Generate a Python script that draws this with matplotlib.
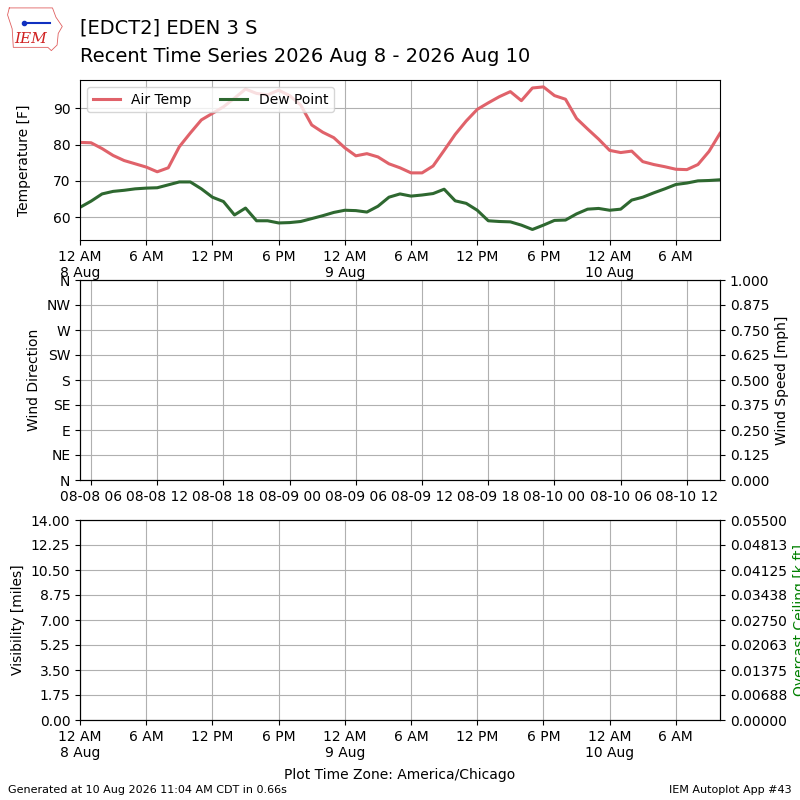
"""
IEM autoplot #43 style recent time series for EDCT2 (Eden 3 S).
"""
from datetime import timedelta, timezone

import matplotlib
matplotlib.use('Agg')
import matplotlib.pyplot as plt
import matplotlib.dates as mdates
from matplotlib.ticker import FuncFormatter
import pandas as pd

# hourly observations, starting 2026-08-08 00:00 CDT
start_time = '2026-08-08 00:00'
air_temp = [80.6, 80.5, 78.9, 77.0, 75.6, 74.7, 73.8, 72.5, 73.6, 79.4,
            83.2, 86.8, 88.6, 90.4, 92.8, 95.3, 94.1, 93.7, 95.0, 93.5,
            90.9, 85.4, 83.4, 81.9, 79.1, 76.9, 77.5, 76.6, 74.7, 73.6,
            72.2, 72.2, 74.1, 78.4, 82.8, 86.5, 89.7, 91.5, 93.2, 94.6,
            92.1, 95.6, 95.9, 93.5, 92.5, 87.2, 84.3, 81.5, 78.4, 77.8,
            78.2, 75.3, 74.5, 73.9, 73.2, 73.1, 74.5, 78.1, 83.1]
dew_point = [62.7, 64.4, 66.4, 67.1, 67.4, 67.8, 68.0, 68.1, 68.9, 69.7,
             69.7, 67.8, 65.5, 64.3, 60.6, 62.5, 59.0, 59.0, 58.4, 58.5,
             58.8, 59.6, 60.4, 61.3, 61.9, 61.8, 61.4, 63.0, 65.5, 66.4,
             65.8, 66.1, 66.5, 67.7, 64.5, 63.8, 61.9, 59.0, 58.8, 58.7,
             57.8, 56.6, 57.8, 59.1, 59.2, 60.9, 62.2, 62.4, 61.9, 62.2,
             64.7, 65.5, 66.7, 67.8, 69.0, 69.4, 70.0, 70.1, 70.3]

wind_dir_labels = ['N', 'NE', 'E', 'SE', 'S', 'SW', 'W', 'NW', 'N']
ceiling_labels = ['0.00000', '0.00688', '0.01375', '0.02063', '0.02750',
                  '0.03438', '0.04125', '0.04813', '0.05500']

CDT = timezone(timedelta(hours=-5), 'CDT')
UTC = timezone.utc

times = pd.date_range(start_time, periods=len(air_temp), freq='h', tz=CDT)
xnum = mdates.date2num(times.to_pydatetime())


def local_fmt(x, pos=None):
    dt = mdates.num2date(x, tz=CDT)
    s = dt.strftime('%I %p').lstrip('0')
    if dt.hour == 0:
        s += '\n%d %s' % (dt.day, dt.strftime('%b'))
    return s


def local_axis(ax):
    ax.xaxis.set_major_locator(mdates.HourLocator(byhour=[0, 6, 12, 18], tz=CDT))
    ax.xaxis.set_major_formatter(FuncFormatter(local_fmt))


fig = plt.figure(figsize=(8, 8), dpi=100)

# title + logo
fig.text(0.1, 0.965, '[EDCT2] EDEN 3 S', fontsize=14, va='center')
fig.text(0.1, 0.929, 'Recent Time Series 2026 Aug 8 - 2026 Aug 10',
         fontsize=14, va='center')
lax = fig.add_axes([0.008, 0.935, 0.072, 0.058])
lax.axis('off')
lax.set_xlim(0, 1)
lax.set_ylim(0, 1)
lax.plot([0.05, 0.8, 0.86, 0.97, 0.9, 0.88, 0.78, 0.72, 0.12, 0.1, 0.02, 0.05],
         [0.95, 0.95, 0.75, 0.55, 0.4, 0.15, 0.03, 0.1, 0.1, 0.5, 0.8, 0.95],
         color='#e06060', lw=0.6)
lax.plot([0.3, 0.75], [0.62, 0.62], color='#1030c0', lw=1.5)
lax.plot([0.3], [0.62], 'o', color='#1030c0', ms=3)
lax.text(0.42, 0.28, 'IEM', color='#d02020', fontsize=11, family='serif',
         style='italic', ha='center', va='center')

# temperature panel
ax1 = fig.add_axes([0.1, 0.7, 0.8, 0.2])
ax1.plot(xnum, air_temp, color='#e0626a', lw=2.2, label='Air Temp')
ax1.plot(xnum, dew_point, color='#2e6830', lw=2.2, label='Dew Point')
ax1.set_xlim(xnum[0], xnum[-1])
ax1.set_ylim(53.7, 97.8)
ax1.set_yticks([60, 70, 80, 90])
ax1.set_ylabel('Temperature [F]', labelpad=15.5)
ax1.grid(True)
local_axis(ax1)
ax1.legend(loc='upper left', ncol=2)

# wind panel (no data, UTC ticks)
ax2 = fig.add_axes([0.1, 0.4, 0.8, 0.25])
ax2.set_xlim(xnum[0], xnum[-1])
ax2.set_ylim(0, 360)
ax2.set_yticks(range(0, 361, 45))
ax2.set_yticklabels(wind_dir_labels)
ax2.set_ylabel('Wind Direction')
ax2.xaxis.set_major_locator(mdates.HourLocator(byhour=[0, 6, 12, 18], tz=UTC))
ax2.xaxis.set_major_formatter(mdates.DateFormatter('%m-%d %H', tz=UTC))
ax2.grid(True)
ax2b = ax2.twinx()
ax2b.set_ylim(0, 1)
ax2b.set_yticks([i / 8 for i in range(9)])
ax2b.yaxis.set_major_formatter(FuncFormatter(lambda v, p: '%.3f' % v))
ax2b.set_ylabel('Wind Speed [mph]')

# visibility / ceiling panel
ax3 = fig.add_axes([0.1, 0.1, 0.8, 0.25])
ax3.set_xlim(xnum[0], xnum[-1])
ax3.set_ylim(0, 14)
ax3.set_yticks([i * 1.75 for i in range(9)])
ax3.yaxis.set_major_formatter(FuncFormatter(lambda v, p: '%.2f' % v))
ax3.set_ylabel('Visibility [miles]')
ax3.grid(True)
local_axis(ax3)
ax3b = ax3.twinx()
ax3b.set_ylim(0, 0.055)
ax3b.set_yticks([i * 0.055 / 8 for i in range(9)])
ax3b.set_yticklabels(ceiling_labels)
ax3b.set_ylabel('Overcast Ceiling [k ft]', color='green')

fig.text(0.5, 0.031, 'Plot Time Zone: America/Chicago', ha='center', va='center',
         fontsize=10)
fig.text(0.01, 0.012, 'Generated at 10 Aug 2026 11:04 AM CDT in 0.66s',
         fontsize=8, va='center')
fig.text(0.99, 0.012, 'IEM Autoplot App #43', fontsize=8, va='center', ha='right')

fig.savefig('out.png', dpi=100)
